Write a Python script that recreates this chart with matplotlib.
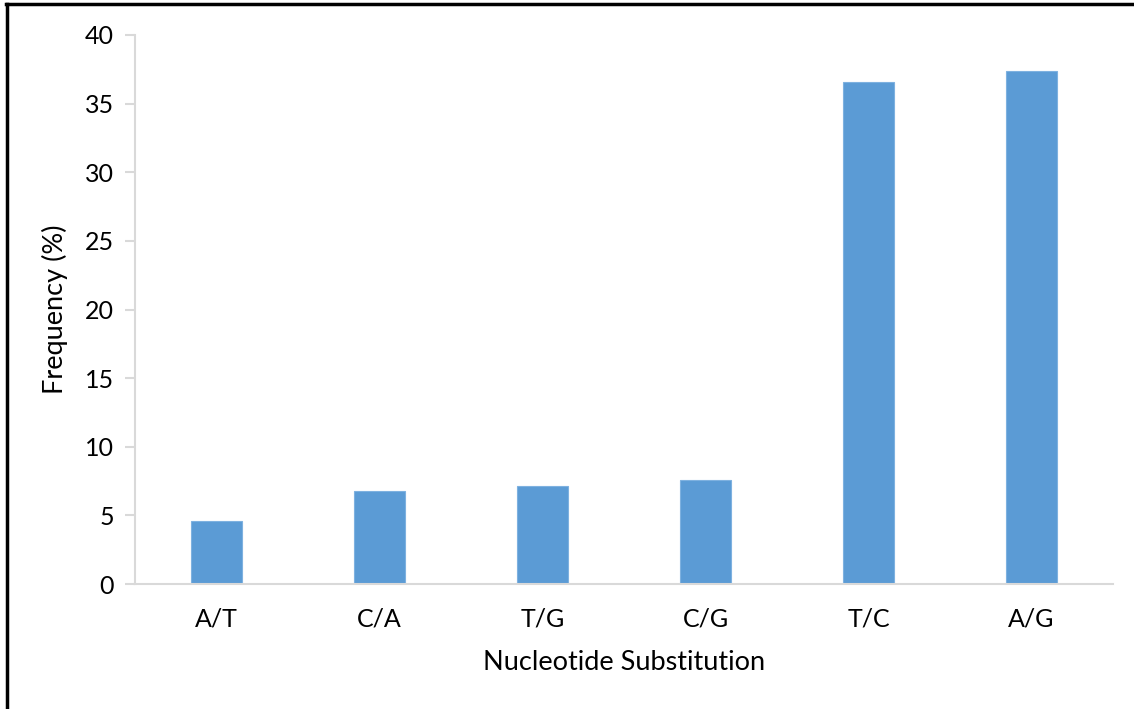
import matplotlib

matplotlib.use("Agg")
import matplotlib.pyplot as plt
from matplotlib.lines import Line2D

# values
substitutions = ["A/T", "C/A", "T/G", "C/G", "T/C", "A/G"]
frequency_pct = [4.6, 6.8, 7.15, 7.6, 36.6, 37.35]
y_ticks = [0, 5, 10, 15, 20, 25, 30, 35, 40]

plt.rcParams["font.family"] = ["Lato", "DejaVu Sans"]

fig = plt.figure(figsize=(11.34, 7.09), dpi=100)
ax = fig.add_axes([135 / 1134, 1 - 584 / 709, 978 / 1134, 549 / 709])

x = range(len(substitutions))
ax.bar(x, frequency_pct, width=0.31, color="#5b9bd5", edgecolor="#7eb1e0", linewidth=0.8)

ax.set_xlim(-0.5, len(substitutions) - 0.5)
ax.set_ylim(0, 40)
ax.set_yticks(y_ticks)
ax.set_xticks(list(x))
ax.set_xticklabels(substitutions)

axis_grey = "#d9d9d9"
for side in ("top", "right"):
    ax.spines[side].set_visible(False)
for side in ("left", "bottom"):
    ax.spines[side].set_color(axis_grey)
    ax.spines[side].set_linewidth(1.5)

ax.tick_params(axis="y", length=7, width=1.5, color=axis_grey, labelsize=18, pad=8)
ax.tick_params(axis="x", length=0, labelsize=18, pad=17)

ax.set_xlabel("Nucleotide Substitution", fontsize=19.5, labelpad=14)
ax.set_ylabel("Frequency (%)", fontsize=19.5, labelpad=12)

# black frame drawn at the top and left edge of the image
fig.add_artist(Line2D([0.005, 1.0], [0.995, 0.995], color="black", linewidth=2.5,
                      transform=fig.transFigure))
fig.add_artist(Line2D([0.006, 0.006], [0.0, 0.995], color="black", linewidth=2.5,
                      transform=fig.transFigure))

fig.savefig("out.png", dpi=100)
plt.close(fig)
